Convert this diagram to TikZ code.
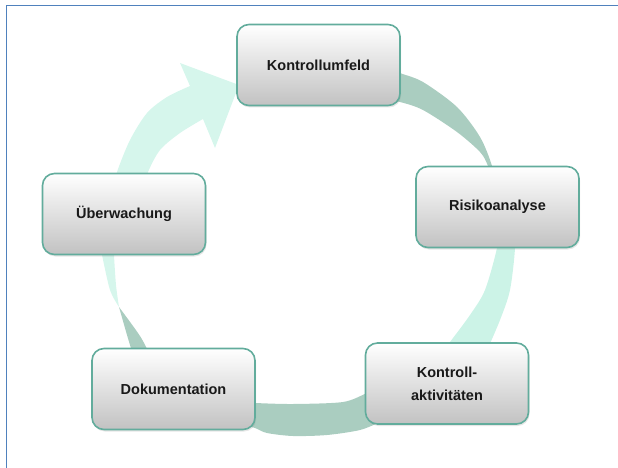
\documentclass[tikz,border=0pt]{standalone}
\usepackage{fontspec}
\setmainfont{Liberation Sans}
\usetikzlibrary{positioning, shadows}

\definecolor{frameblue}{RGB}{79,129,189}
\definecolor{mint}{RGB}{214,246,236}
\definecolor{mintdeep}{RGB}{204,243,231}
\definecolor{sage}{RGB}{170,205,192}
\definecolor{boxline}{RGB}{98,172,156}

\begin{document}
\begin{tikzpicture}[
	x=1pt, y=-1pt,
		base/.style = {draw=boxline, line width=1.6pt, rounded corners=12pt,
									 minimum width=163pt, minimum height=81pt, align=center,
									 top color=white, bottom color=black!24,
									 font=\fontsize{14.5}{23}\selectfont\bfseries, text=black!90,
									 drop shadow={opacity=0.2, shadow xshift=1pt, shadow yshift=-2pt}},
	backside/.style = {fill=sage},
 frontside/.style = {fill=mint}]
\useasboundingbox (0,0) rectangle (618,468);
% frame
\draw [frameblue, line width=1.5pt] (6.5,468) |- (618,5.5);
%% twisted ribbon, drawn first so the boxes hide its joints
\fill [backside]                            % <-- top right
	plot[smooth] coordinates {(385,66) (400,73) (423,82) (457,107) (480,137) (492,166) (496,190)}
	-- plot[smooth] coordinates {(496,190) (488,166) (480,152) (457,132) (423,110) (400,102) (385,100)}
	-- cycle;
\fill [fill=mintdeep]                       % <-- right
	plot[smooth] coordinates {(498,195) (513,228) (515,248) (510,290) (500,320) (485,355)}
	-- plot[smooth] coordinates {(440,355) (450,342) (470,315) (485,290) (497,248) (499,225) (498,195)}
	-- cycle;
\fill [backside]                            % <-- bottom
	plot[smooth] coordinates {(380,388) (367,393) (343,402) (293,404) (255,403) (240,402)}
	-- plot[smooth] coordinates {(240,424) (255,428) (267,433) (293,436) (327,435) (360,430) (380,422)}
	-- cycle;
\fill [backside]                            % <-- lower left, after the twist
	plot[smooth] coordinates {(119,307) (127,335) (133,355)}
	-- plot[smooth] coordinates {(150,355) (140,336) (119,307)}
	-- cycle;
\fill [frontside]                           % <-- lower left, before the twist
	plot[smooth] coordinates {(100,245) (102,255) (110,290) (119,307)}
	-- plot[smooth] coordinates {(119,307) (116,285) (114,255) (114,245)}
	-- cycle;
\fill [frontside]                           % <-- arrow into Kontrollumfeld
	plot[smooth] coordinates {(115,185) (117,172) (130,140) (147,113) (167,97) (190,86)}
	-- (180,63) -- (239,85) -- (215,148) -- (203,119)
	-- plot[smooth] coordinates {(203,119) (180,133) (160,150) (148,172) (145,185)}
	-- cycle;
%% boxes
\node [base] (umfeld) at (318.5,65)  {Kontrollumfeld};
\node [base] (risiko) at (497.5,207) {Risikoanalyse};
\node [base] (aktiv)  at (447,383.5) {Kontroll-\\aktivitäten};
\node [base] (doku)   at (173.5,389) {Dokumentation};
\node [base] (ueber)  at (124,214)   {Überwachung};
\end{tikzpicture}
\end{document}
